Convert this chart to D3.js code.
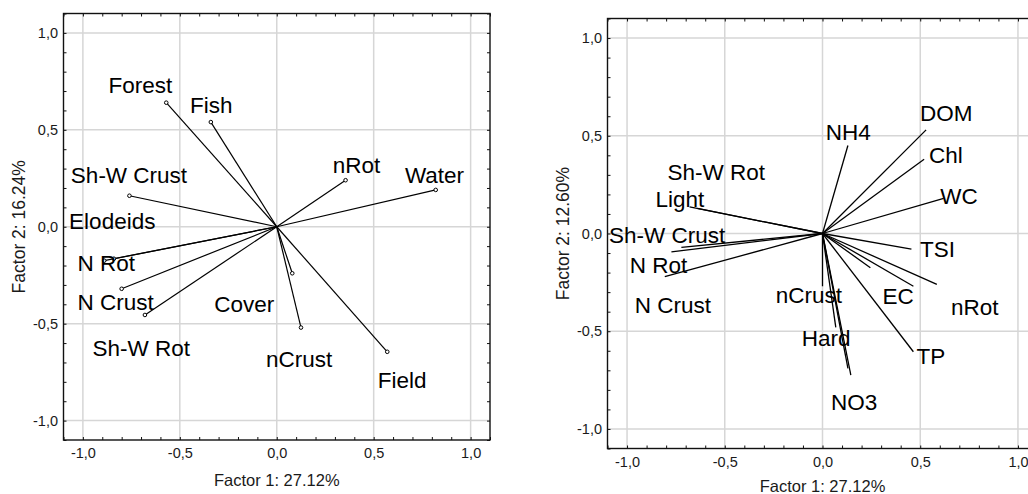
<!DOCTYPE html>
<html>
<head>
<meta charset="utf-8">
<script src="https://cdn.jsdelivr.net/npm/d3@7"></script>
<style>
  html, body { margin: 0; padding: 0; background: #fff; }
  svg { display: block; font-family: "Liberation Sans", Arial, sans-serif; }
</style>
</head>
<body>
<svg id="chart" width="1028" height="494"></svg>
<script>
// ---- Left biplot: catchment / habitat variables on factors 1 and 2 ----
const leftVars    = ["Forest", "Fish", "Sh-W Crust", "Elodeids", "N Rot", "N Crust", "Sh-W Rot", "Cover", "nCrust", "Field", "nRot", "Water"];
const leftF1      = [-0.57, -0.34, -0.76, -0.84, -0.89, -0.80, -0.68, 0.08, 0.125, 0.57, 0.355, 0.82];
const leftF2      = [ 0.64,  0.54,  0.16, -0.165, -0.175, -0.32, -0.455, -0.24, -0.52, -0.645, 0.24, 0.19];
// where each variable name is written (factor coordinates of the text baseline start)
const leftLabelF1 = [-0.868, -0.447, -1.062, -1.071, -1.028, -1.028, -0.951, -0.322, -0.055, 0.521, 0.289, 0.661];
const leftLabelF2 = [ 0.691,  0.585,  0.224, -0.013, -0.227, -0.429, -0.666, -0.438, -0.725, -0.833, 0.278, 0.224];

// ---- Right biplot: water chemistry and community variables ----
const rightVars    = ["NH4", "DOM", "Chl", "WC", "TSI", "", "EC", "nRot", "TP", "NO3", "", "Hard", "nCrust", "Light", "Sh-W Rot", "Sh-W Crust", "N Rot", "N Crust"];
const rightF1      = [0.13, 0.53, 0.52, 0.62, 0.455, 0.245, 0.465, 0.585, 0.465, 0.145, 0.13, 0.068, 0.0, -0.68, -0.64, -0.722, -0.773, -0.807];
const rightF2      = [0.45, 0.53, 0.38, 0.18, -0.08, -0.175, -0.27, -0.26, -0.605, -0.725, -0.69, -0.48, -0.27, 0.136, 0.128, -0.071, -0.094, -0.221];
const rightLabelF1 = [0.017, 0.499, 0.545, 0.603, 0.499, 0, 0.307, 0.657, 0.481, 0.043, 0, -0.106, -0.239, -0.855, -0.793, -1.092, -0.986, -0.961];
const rightLabelF2 = [0.476, 0.574, 0.360, 0.153, -0.119, 0, -0.361, -0.417, -0.667, -0.905, 0, -0.578, -0.354, 0.135, 0.272, -0.051, -0.204, -0.408];

// ---- Axes ----
const axisDomain  = [-1.1, 1.1];
const majorTicks  = [-1.0, -0.5, 0.0, 0.5, 1.0];
const minorTicks  = [-1.1, -1.0, -0.9, -0.8, -0.7, -0.6, -0.5, -0.4, -0.3, -0.2, -0.1, 0.0,
                      0.1, 0.2, 0.3, 0.4, 0.5, 0.6, 0.7, 0.8, 0.9, 1.0, 1.1];
const xTitle      = "Factor 1: 27.12%";
const leftYTitle  = "Factor 2: 16.24%";
const rightYTitle = "Factor 2: 12.60%";

const fmt = v => (Math.abs(v) < 1e-9 ? 0 : v).toFixed(1).replace(".", ",");

const svg = d3.select("#chart");

function drawPanel(opts) {
  const g = svg.append("g");
  const x = d3.scaleLinear().domain(axisDomain).range([opts.left, opts.left + opts.size]);
  const y = d3.scaleLinear().domain(axisDomain).range([opts.top + opts.size, opts.top]);
  const [x0, x1] = x.range();
  const [y1, y0] = y.range();

  // grid at the labelled ticks
  const grid = g.append("g").attr("stroke", "#d6d6d6").attr("stroke-width", 1.5);
  grid.selectAll("line.v").data(majorTicks).join("line").attr("class", "v")
    .attr("x1", d => x(d)).attr("x2", d => x(d)).attr("y1", y0).attr("y2", y1);
  grid.selectAll("line.h").data(majorTicks).join("line").attr("class", "h")
    .attr("y1", d => y(d)).attr("y2", d => y(d)).attr("x1", x0).attr("x2", x1);

  // small inward ticks on all four sides
  const tickStyle = sel => {
    sel.select(".domain").remove();
    sel.selectAll(".tick line").attr("stroke", "#111").attr("stroke-width", 1);
  };
  g.append("g").attr("transform", `translate(0,${y1})`)
    .call(d3.axisTop(x).tickValues(minorTicks).tickSize(3).tickFormat("")).call(tickStyle);
  g.append("g").attr("transform", `translate(0,${y0})`)
    .call(d3.axisBottom(x).tickValues(minorTicks).tickSize(3).tickFormat("")).call(tickStyle);
  g.append("g").attr("transform", `translate(${x0},0)`)
    .call(d3.axisRight(y).tickValues(minorTicks).tickSize(3).tickFormat("")).call(tickStyle);
  g.append("g").attr("transform", `translate(${x1},0)`)
    .call(d3.axisLeft(y).tickValues(minorTicks).tickSize(3).tickFormat("")).call(tickStyle);

  // tick labels
  const labelStyle = sel => {
    sel.select(".domain").remove();
    sel.selectAll(".tick line").remove();
    sel.selectAll(".tick text").attr("font-family", "Liberation Sans, Arial, sans-serif")
      .attr("font-size", 14.5).attr("fill", "#1a1a1a");
  };
  g.append("g").attr("transform", `translate(0,${y1})`)
    .call(d3.axisBottom(x).tickValues(majorTicks).tickSize(0).tickPadding(8).tickFormat(fmt))
    .call(labelStyle);
  g.append("g").attr("transform", `translate(${x0},0)`)
    .call(d3.axisLeft(y).tickValues(majorTicks).tickSize(0).tickPadding(5.5).tickFormat(fmt))
    .call(labelStyle);

  // frame
  g.append("rect").attr("x", x0).attr("y", y0).attr("width", x1 - x0).attr("height", y1 - y0)
    .attr("fill", "none").attr("stroke", "#111").attr("stroke-width", 1.4);

  // loading vectors from the origin
  const idx = d3.range(opts.vars.length);
  g.append("g").attr("stroke", "#000").attr("stroke-width", opts.lineWidth)
    .selectAll("line").data(idx).join("line")
    .attr("x1", x(0)).attr("y1", y(0))
    .attr("x2", i => x(opts.f1[i])).attr("y2", i => y(opts.f2[i]));

  if (opts.markers) {
    g.append("g").selectAll("circle").data(idx).join("circle")
      .attr("cx", i => x(opts.f1[i])).attr("cy", i => y(opts.f2[i])).attr("r", 1.8)
      .attr("fill", "#fff").attr("stroke", "#000").attr("stroke-width", 1);
  }

  // variable names
  g.append("g").attr("font-size", 22.5).attr("fill", "#000")
    .selectAll("text").data(idx.filter(i => opts.vars[i] !== "")).join("text")
    .attr("x", i => x(opts.lx[i])).attr("y", i => y(opts.ly[i]))
    .text(i => opts.vars[i]);

  // axis titles
  g.append("text").attr("x", x(0)).attr("y", y1 + opts.xTitleGap)
    .attr("text-anchor", "middle").attr("font-size", 16.5).attr("fill", "#1a1a1a")
    .text(xTitle);
  g.append("text")
    .attr("transform", `translate(${x0 - opts.yTitleGap},${y(0)}) rotate(-90)`)
    .attr("text-anchor", "middle").attr("font-size", 17.5).attr("fill", "#1a1a1a")
    .text(opts.yTitle);
}

drawPanel({
  left: 63.5, top: 13.5, size: 426.5,
  vars: leftVars, f1: leftF1, f2: leftF2, lx: leftLabelF1, ly: leftLabelF2,
  markers: true, lineWidth: 1.2,
  yTitle: leftYTitle, xTitleGap: 46, yTitleGap: 38.5
});

drawPanel({
  left: 607.5, top: 18.5, size: 430,
  vars: rightVars, f1: rightF1, f2: rightF2, lx: rightLabelF1, ly: rightLabelF2,
  markers: false, lineWidth: 1.3,
  yTitle: rightYTitle, xTitleGap: 43, yTitleGap: 39
});
</script>
</body>
</html>
